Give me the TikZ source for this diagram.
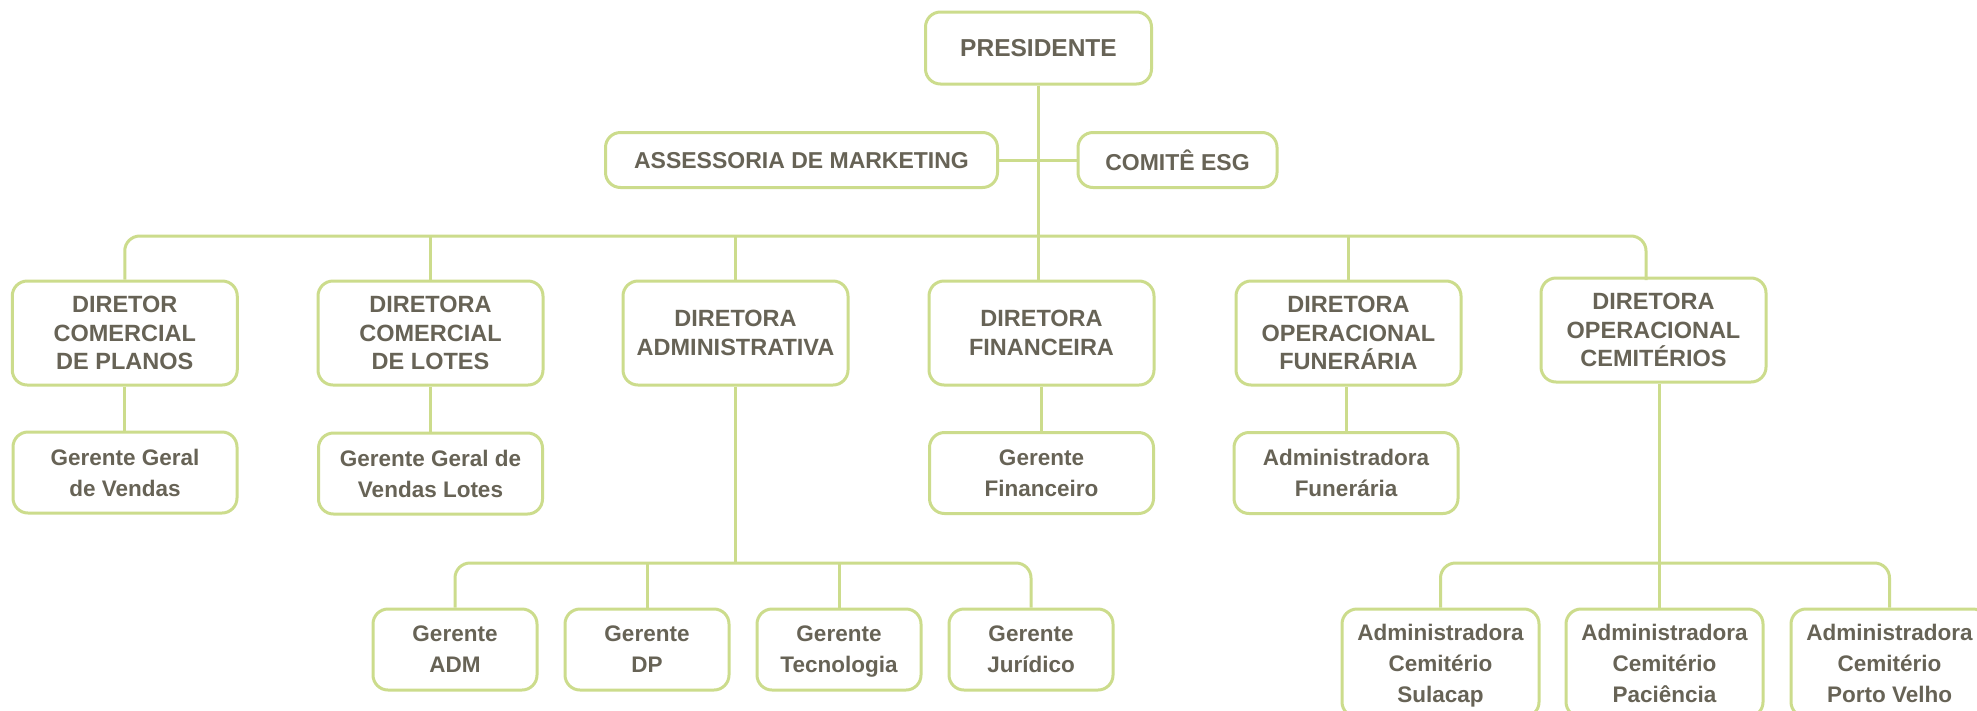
\documentclass[tikz,border=0pt]{standalone}
\usepackage{fontspec}
\setmainfont{Liberation Sans}
\definecolor{lg}{RGB}{204,220,140}
\definecolor{tg}{RGB}{103,99,86}
\begin{document}
\begin{tikzpicture}[x=1pt,y=-1pt,
  orgbox/.style={draw=lg, line width=3pt, rounded corners=15pt, text=tg, align=center, inner sep=0pt, fill=white,
    text depth=0pt, font=\bfseries\fontsize{23.5}{28.5}\selectfont},
  lowfont/.style={font=\bfseries\fontsize{22.5}{31}\selectfont},
  topfont/.style={font=\bfseries\fontsize{23}{28}\selectfont},
  dirbox/.style={orgbox, minimum width=225, minimum height=104},
  mgrbox/.style={orgbox, lowfont, minimum width=224, minimum height=81},
  smbox/.style={orgbox, lowfont, minimum width=164, minimum height=81},
  cembox/.style={orgbox, lowfont, minimum width=197, minimum height=108},
  conn/.style={draw=lg, line width=3pt},
]
\clip (0,0) rectangle (1977,710);
\fill[white] (0,0) rectangle (1977,710);

% top
\node[orgbox, minimum width=226, minimum height=72, font=\bfseries\fontsize{24.5}{29}\selectfont] (pres) at (1038.5,48) {PRESIDENTE};
\node[orgbox, topfont, minimum width=392, minimum height=55] (mkt) at (801.5,160) {ASSESSORIA DE MARKETING};
\node[orgbox, topfont, minimum width=199, minimum height=55] (esg) at (1177.5,160) {COMITÊ ESG};

% directors
\node[dirbox] (d1) at (124.75,333) {DIRETOR\\COMERCIAL\\DE PLANOS};
\node[dirbox] (d2) at (430.5,333) {DIRETORA\\COMERCIAL\\DE LOTES};
\node[dirbox] (d3) at (735.5,333) {DIRETORA\\ADMINISTRATIVA};
\node[dirbox] (d4) at (1041.5,333) {DIRETORA\\FINANCEIRA};
\node[dirbox] (d5) at (1348.5,333) {DIRETORA\\OPERACIONAL\\FUNERÁRIA};
\node[dirbox] (d6) at (1653.5,330) {DIRETORA\\OPERACIONAL\\CEMITÉRIOS};

% managers
\node[mgrbox] (g1) at (125,472.5) {Gerente Geral\\de Vendas};
\node[mgrbox] (g2) at (430.5,473.5) {Gerente Geral de\\Vendas Lotes};
\node[mgrbox] (g4) at (1041.5,473) {Gerente\\Financeiro};
\node[mgrbox] (g5) at (1346,473) {Administradora\\Funerária};

% admin subtree
\node[smbox] (a1) at (455,649.5) {Gerente\\ADM};
\node[smbox] (a2) at (647,649.5) {Gerente\\DP};
\node[smbox] (a3) at (839,649.5) {Gerente\\Tecnologia};
\node[smbox] (a4) at (1031,649.5) {Gerente\\Jurídico};

% cemetery subtree
\node[cembox] (c1) at (1440.5,663) {Administradora\\Cemitério\\Sulacap};
\node[cembox] (c2) at (1664.5,663) {Administradora\\Cemitério\\Paciência};
\node[cembox] (c3) at (1889.5,663) {Administradora\\Cemitério\\Porto Velho};

% connectors
\coordinate (bus) at (1038.5,236);
\coordinate (abus) at (736,563);
\coordinate (cbus) at (1659,563);
\coordinate (d6top) at (1646,280);

\draw[conn] (pres.south) -- (pres.south |- d4.north);
\draw[conn] (mkt.east) -- (esg.west);
\draw[conn, rounded corners=15pt] (d1.north) |- (bus) -| (d6top);
\draw[conn] (d2.north) -- (d2.north |- bus);
\draw[conn] (d3.north) -- (d3.north |- bus);
\draw[conn] (d5.north) -- (d5.north |- bus);

\draw[conn] (d1.south) -- (d1.south |- g1.north);
\draw[conn] (d2.south) -- (d2.south |- g2.north);
\draw[conn] (d4.south) -- (d4.south |- g4.north);
\draw[conn] (g5.north) -- (g5.north |- d5.south);

\draw[conn] (d3.south) -- (d3.south |- abus);
\draw[conn, rounded corners=15pt] (a1.north) |- (abus) -| (a4.north);
\draw[conn] (a2.north) -- (a2.north |- abus);
\draw[conn] (a3.north) -- (a3.north |- abus);

\draw[conn] (d6.south -| cbus) -- (cbus);
\draw[conn, rounded corners=15pt] (c1.north) |- (cbus) -| (c3.north);
\draw[conn] (cbus) -- (cbus |- c2.north);
\end{tikzpicture}
\end{document}
